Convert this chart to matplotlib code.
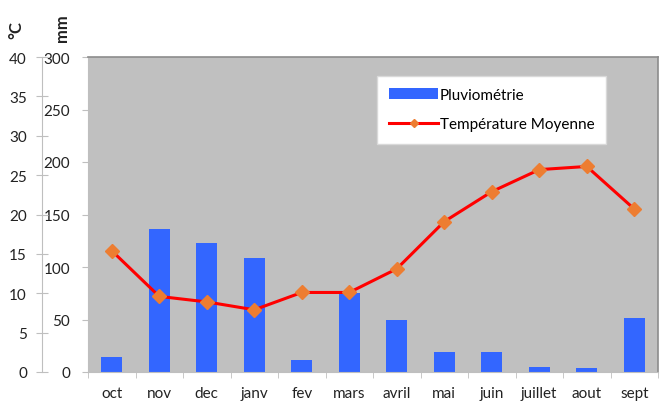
import matplotlib
matplotlib.use("Agg")
import matplotlib.pyplot as plt
from matplotlib.ticker import FixedLocator

plt.rcParams['font.family'] = ['Lato', 'DejaVu Sans']

months = ['oct', 'nov', 'dec', 'janv', 'fev', 'mars', 'avril', 'mai', 'juin', 'juillet', 'aout', 'sept']
pluvio = [14, 136, 123, 109, 11, 75, 49.5, 19, 19.5, 4.5, 3.5, 51]
temp = [15.4, 9.6, 8.9, 7.9, 10.1, 10.1, 13.1, 19.1, 22.9, 25.7, 26.1, 20.7]
mm_ticks = [0, 50, 100, 150, 200, 250, 300]
c_ticks = [0, 5, 10, 15, 20, 25, 30, 35, 40]

FS = 11
W, H = 661, 406
fig = plt.figure(figsize=(W / 100, H / 100), dpi=100)
left, right, top, bottom = 88, 658, 58, 373
ax = fig.add_axes([left / W, (H - bottom) / H, (right - left) / W, (bottom - top) / H])
ax.set_facecolor('#C0C0C0')

x = list(range(len(months)))
bars = ax.bar(x, pluvio, width=0.44, color='#3366FF', zorder=2, label='Pluviométrie')
ax.set_xlim(-0.5, len(months) - 0.5)
ax.set_ylim(0, 300)
ax.set_yticks(mm_ticks)
ax.set_xticks(x)
ax.set_xticklabels(months)
ax.xaxis.set_minor_locator(FixedLocator([i + 0.5 for i in range(-1, len(months))]))
ax.tick_params(axis='x', which='major', length=0, pad=10, labelsize=FS, colors='#222222')
ax.tick_params(axis='x', which='minor', length=4, color='#BFBFBF')
ax.tick_params(axis='y', length=4, color='#BFBFBF', labelsize=FS, labelcolor='#222222', pad=9)
for s in ['top', 'right']:
    ax.spines[s].set_color('#8C8C8C')
    ax.spines[s].set_linewidth(1.2)
for s in ['left', 'bottom']:
    ax.spines[s].set_color('#BFBFBF')

ax2 = ax.twinx()
line, = ax2.plot(x, temp, color='#FF0000', lw=2.2, marker='D', ms=7,
                 mfc='#ED7D31', mec='#ED7D31', zorder=3, label='Température Moyenne')
ax2.set_ylim(0, 40)
ax2.set_yticks(c_ticks)
ax2.yaxis.set_ticks_position('left')
ax2.yaxis.set_label_position('left')
ax2.spines['left'].set_visible(True)
ax2.spines['left'].set_position(('outward', 33))
ax2.spines['left'].set_color('#BFBFBF')
ax2.spines['right'].set_visible(False)
ax2.spines['top'].set_visible(False)
ax2.spines['bottom'].set_visible(False)
ax2.tick_params(axis='y', direction='inout', length=8, color='#BFBFBF',
                labelsize=FS, labelcolor='#222222', pad=7)

leg = ax2.legend([bars, line], ['Pluviométrie', 'Température Moyenne'],
                 loc='upper left', bbox_to_anchor=(0.507, 0.94), borderaxespad=0,
                 fontsize=FS, frameon=True, fancybox=False, framealpha=1,
                 edgecolor='#D9D9D9', borderpad=0.8, labelspacing=1.0,
                 handlelength=3.2, handletextpad=0.1, markerscale=0.55)
leg.set_zorder(10)

fig.text(16 / W, 1 - 30 / H, '°C', rotation=90, ha='center', va='center',
         fontsize=12, fontweight='bold', color='#222222')
fig.text(62 / W, 1 - 28 / H, 'mm', rotation=90, ha='center', va='center',
         fontsize=12, fontweight='bold', color='#222222')

fig.savefig('out.png', dpi=100)
